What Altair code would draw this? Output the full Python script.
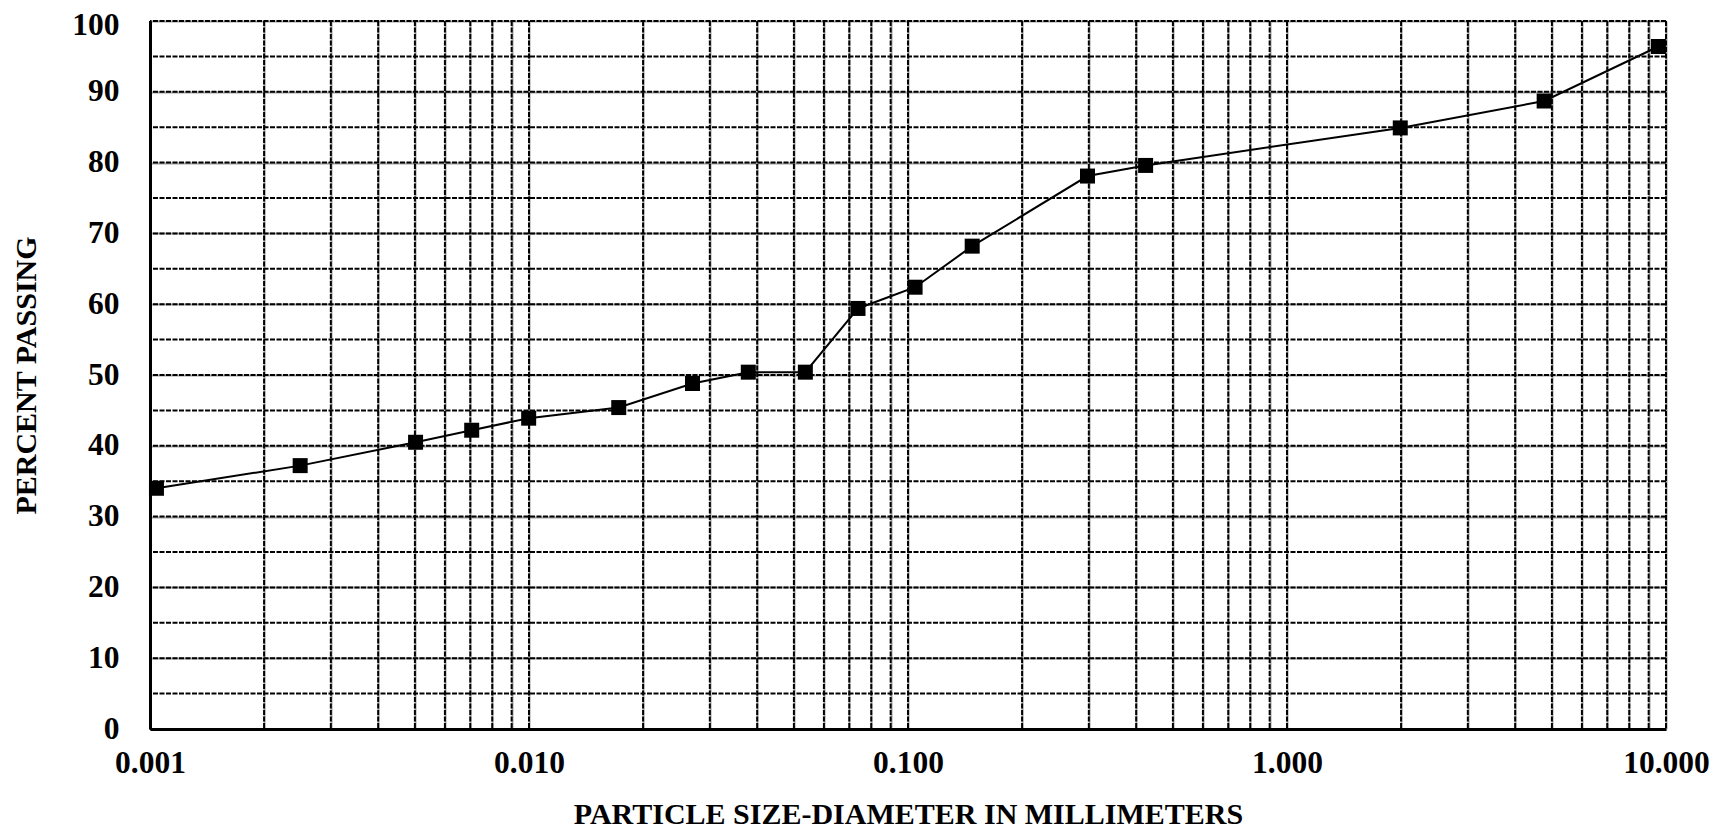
import altair as alt
import pandas as pd

# Particle size (mm) and percent passing
size_mm = [0.00104, 0.00249, 0.00502, 0.00706, 0.00998, 0.01725, 0.0270, 0.0379,
           0.0536, 0.0738, 0.1044, 0.1477, 0.2976, 0.4236, 1.99, 4.77, 9.55]
percent_passing = [34.0, 37.2, 40.5, 42.2, 43.9, 45.4, 48.8, 50.4,
                   50.4, 59.4, 62.4, 68.2, 78.1, 79.6, 84.9, 88.7, 96.4]

x_grid = [m * d for d in [0.001, 0.01, 0.1, 1.0] for m in range(1, 10)] + [10.0]
y_grid = list(range(0, 101, 5))

df = pd.DataFrame({"size": size_mm, "passing": percent_passing})
gx = pd.DataFrame({"size": x_grid})
gy = pd.DataFrame({"passing": y_grid})

FONT = "Liberation Serif"

x_scale = alt.Scale(type="log", domain=[0.001, 10], nice=False)
y_scale = alt.Scale(domain=[0, 100], nice=False)

x_enc = alt.X(
    "size:Q",
    scale=x_scale,
    axis=alt.Axis(
        title="PARTICLE SIZE-DIAMETER IN MILLIMETERS",
        values=x_grid,
        labelExpr="abs(log(datum.value)/LN10 - round(log(datum.value)/LN10)) < 0.000001 ? format(datum.value, '.3f') : ''",
        ticks=False,
        labelPadding=18,
        titlePadding=21,
        labelFlush=False,
        labelOverlap=False,
    ),
)
y_enc = alt.Y(
    "passing:Q",
    scale=y_scale,
    axis=alt.Axis(
        title="PERCENT PASSING",
        values=y_grid,
        labelExpr="datum.value % 10 == 0 ? datum.label : ''",
        labelOffset={"condition": {"test": "datum.value == 100", "value": 4}, "value": 0},
        ticks=False,
        labelPadding=31,
        titlePadding=30,
        labelOverlap=False,
    ),
)

vrules = alt.Chart(gx).mark_rule(color="black", strokeWidth=2, strokeDash=[5, 1.5]).encode(
    x=alt.X("size:Q", scale=x_scale)
)
hrules = alt.Chart(gy).mark_rule(color="black", strokeWidth=2, strokeDash=[5, 1.5]).encode(
    y=alt.Y("passing:Q", scale=y_scale)
)

base = alt.Chart(df).encode(x=x_enc, y=y_enc)
line = base.mark_line(color="black", strokeWidth=2)
pts = base.mark_point(shape="square", filled=True, color="black", size=225, opacity=1)

chart = (
    alt.layer(vrules, hrules, line, pts)
    .properties(
        width=1516,
        height=708,
        autosize=alt.AutoSizeParams(type="none"),
        padding={"left": 142, "top": 13, "right": 47, "bottom": 104},
    )
    .configure_view(strokeWidth=0)
    .configure_axis(
        grid=True,
        gridColor="#a0a0a0",
        gridWidth=2,
        domainColor="black",
        domainWidth=3,
        labelFont=FONT,
        labelFontWeight="bold",
        labelFontSize=31.5,
        labelColor="black",
        titleFont=FONT,
        titleFontWeight="bold",
        titleFontSize=30,
        titleColor="black",
    )
)

chart.save("out.html", embed_options={"renderer": "svg", "actions": False})
